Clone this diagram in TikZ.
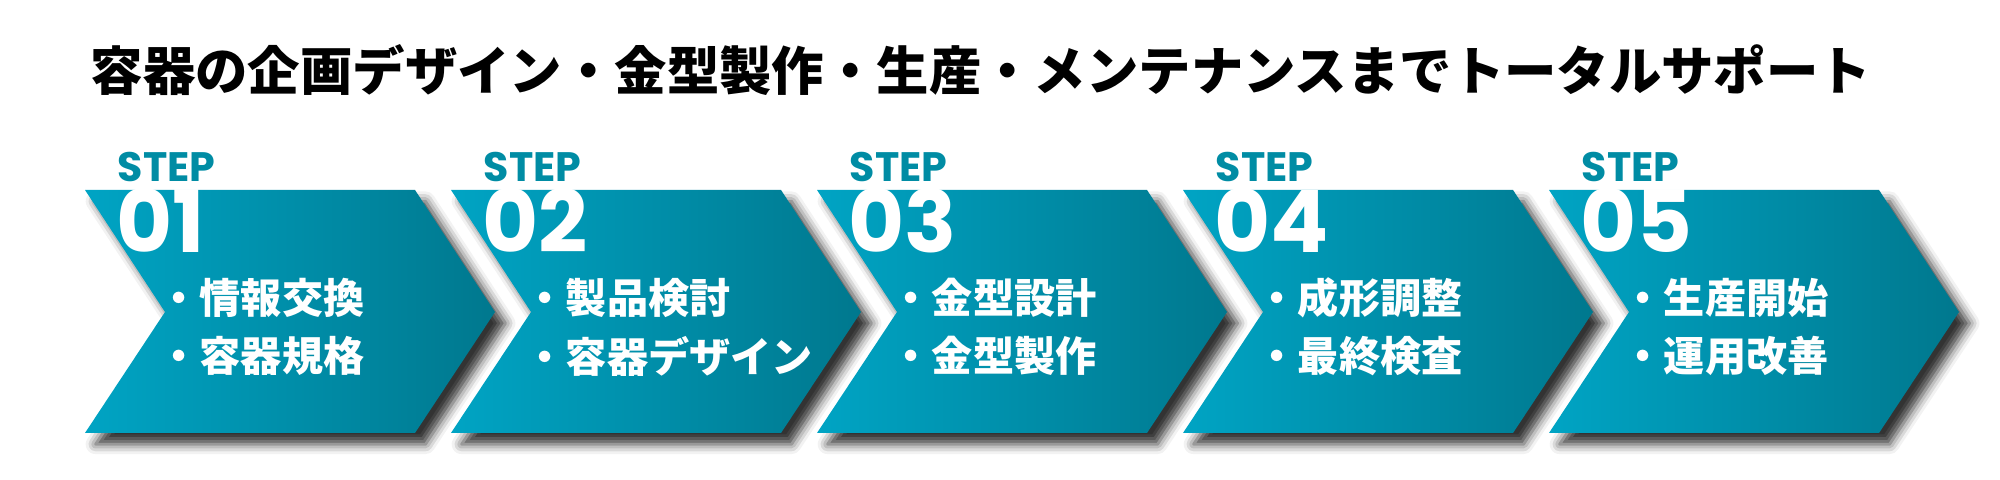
\documentclass[tikz,border=0pt]{standalone}
\usepackage{fontspec}
\usetikzlibrary{shadows.blur}
\newfontfamily\jpfont{Noto Sans CJK JP}
\newfontfamily\titlefont{Noto Sans CJK JP}[UprightFont=* Black]
\newfontfamily\stepfont{Poppins}
\definecolor{stepLight}{RGB}{0,164,196}
\definecolor{stepDark}{RGB}{0,120,142}
\definecolor{stepText}{RGB}{0,140,164}
\begin{document}
\begin{tikzpicture}[x=0.01cm,y=-0.01cm,
        chevron/.style={left color=stepLight,right color=stepDark,
            blur shadow={shadow xshift=3pt,shadow yshift=-3.2pt,shadow blur radius=2.8pt,shadow opacity=80}},
        steplabel/.style={anchor=base west,inner sep=0pt,text=stepText,font=\stepfont\bfseries\fontsize{11.7}{12}\selectfont},
        stepnum/.style={anchor=base west,inner sep=0pt,text=white,font=\stepfont\bfseries\fontsize{24.5}{26}\selectfont},
        item/.style={anchor=west,inner sep=0pt,text=white,font=\jpfont\bfseries\fontsize{11.7}{12}\selectfont}]
            \useasboundingbox (0,0) rectangle (2000,480);
            \node [anchor=west,inner sep=0pt,font=\titlefont\fontsize{14.9}{15}\selectfont] (title) at (90,70) {容器の企画デザイン・金型製作・生産・メンテナンスまでトータルサポート};
            \foreach \i/\a/\b in {1/情報交換/容器規格,2/製品検討/容器デザイン,3/金型設計/金型製作,4/成形調整/最終検査,5/生産開始/運用改善}
            {
                \pgfmathsetmacro\x{85+366*(\i-1)}
                \path [chevron] (\x,190) -- ++(330,0) -- ++(80,122) -- ++(-80,121) -- ++(-330,0) -- ++(80,-121) -- cycle;
                \node [steplabel] (step\i) at (\x+32,182) {STEP};
                \node [stepnum] (num\i) at (\x+31,253) {0\i};
                \node [item] (top\i) at (\x+73,298) {・\a};
                \node [item] (bot\i) at (\x+73,356) {・\b};
            }
        \end{tikzpicture}
\end{document}
